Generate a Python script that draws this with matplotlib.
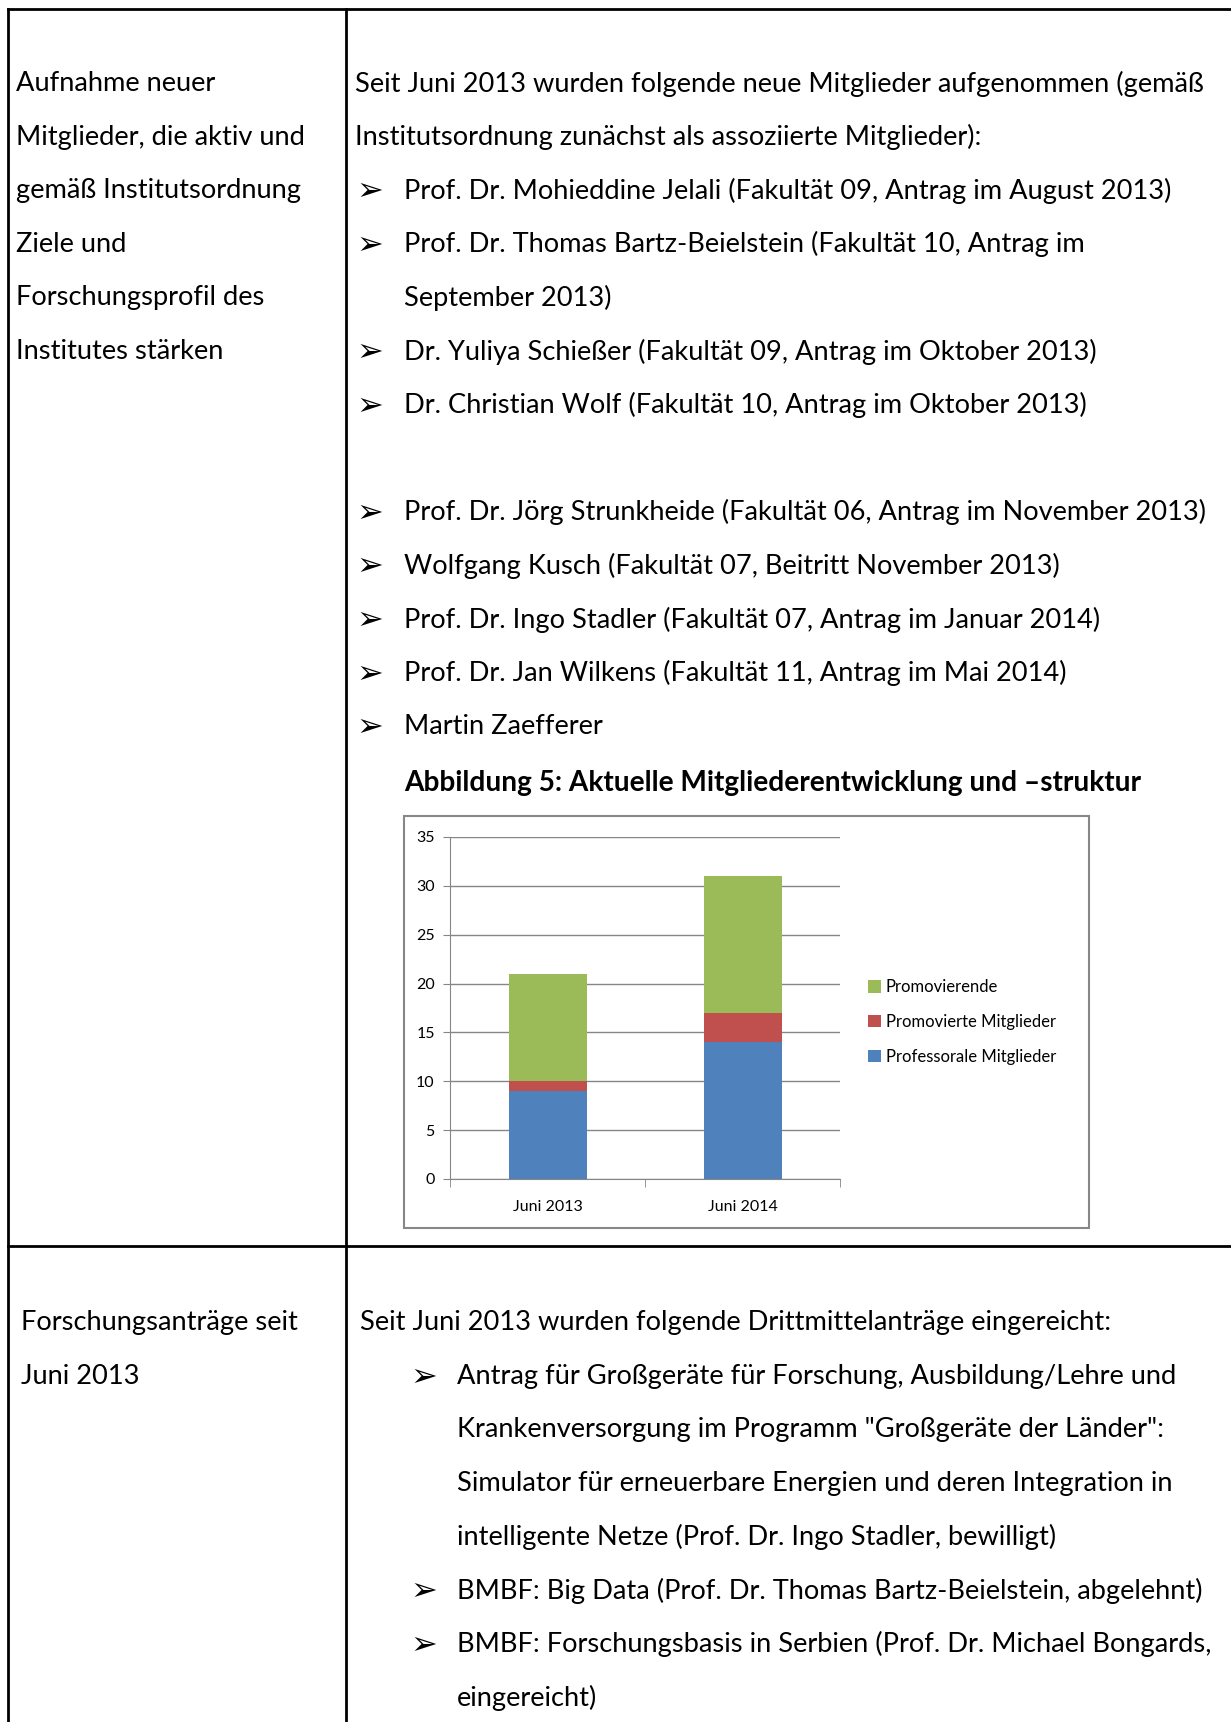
"""Rebuild of a report page: member table with stacked bar chart of member counts."""
import matplotlib
matplotlib.use('Agg')
import matplotlib.pyplot as plt
from matplotlib.patches import Rectangle

# Chart data
categories = ['Juni 2013', 'Juni 2014']
professorale = [9, 14]
promovierte = [1, 3]
promovierende = [11, 14]
series_names = ['Professorale Mitglieder', 'Promovierte Mitglieder', 'Promovierende']
series_colors = ['#4F81BD', '#C0504D', '#9BBB59']
y_ticks = [0, 5, 10, 15, 20, 25, 30, 35]

# Page text
left_row1 = ['Aufnahme neuer', 'Mitglieder, die aktiv und', 'gemäß Institutsordnung',
             'Ziele und', 'Forschungsprofil des', 'Institutes stärken']
intro_row1 = ['Seit Juni 2013 wurden folgende neue Mitglieder aufgenommen (gemäß',
              'Institutsordnung zunächst als assoziierte Mitglieder):']
members = [
    (True, 'Prof. Dr. Mohieddine Jelali (Fakultät 09, Antrag im August 2013)'),
    (True, 'Prof. Dr. Thomas Bartz-Beielstein (Fakultät 10, Antrag im'),
    (False, 'September 2013)'),
    (True, 'Dr. Yuliya Schießer (Fakultät 09, Antrag im Oktober 2013)'),
    (True, 'Dr. Christian Wolf (Fakultät 10, Antrag im Oktober 2013)'),
    (None, ''),
    (True, 'Prof. Dr. Jörg Strunkheide (Fakultät 06, Antrag im November 2013)'),
    (True, 'Wolfgang Kusch (Fakultät 07, Beitritt November 2013)'),
    (True, 'Prof. Dr. Ingo Stadler (Fakultät 07, Antrag im Januar 2014)'),
    (True, 'Prof. Dr. Jan Wilkens (Fakultät 11, Antrag im Mai 2014)'),
    (True, 'Martin Zaefferer'),
]
caption = 'Abbildung 5: Aktuelle Mitgliederentwicklung und –struktur'
left_row2 = ['Forschungsanträge seit', 'Juni 2013']
intro_row2 = 'Seit Juni 2013 wurden folgende Drittmittelanträge eingereicht:'
proposals = [
    (True, 'Antrag für Großgeräte für Forschung, Ausbildung/Lehre und'),
    (False, 'Krankenversorgung im Programm "Großgeräte der Länder":'),
    (False, 'Simulator für erneuerbare Energien und deren Integration in'),
    (False, 'intelligente Netze (Prof. Dr. Ingo Stadler, bewilligt)'),
    (True, 'BMBF: Big Data (Prof. Dr. Thomas Bartz-Beielstein, abgelehnt)'),
    (True, 'BMBF: Forschungsbasis in Serbien (Prof. Dr. Michael Bongards,'),
    (False, 'eingereicht)'),
]

W, H = 1231, 1722
FONT = ['Lato', 'DejaVu Sans']
FS = 19.6
LINE = 53.6

fig = plt.figure(figsize=(W / 100, H / 100), dpi=100)
fig.patch.set_facecolor('white')

# Page layer in pixel coordinates
page = fig.add_axes([0, 0, 1, 1])
page.set_xlim(0, W)
page.set_ylim(H, 0)
page.axis('off')

# Table borders
lw = 2.0
page.plot([8, W], [9, 9], color='black', lw=lw)
page.plot([8, 8], [9, H], color='black', lw=lw)
page.plot([346, 346], [9, H], color='black', lw=lw)
page.plot([8, W], [1246, 1246], color='black', lw=lw)


def put(x, y, s, **kw):
    page.text(x, y, s, fontsize=kw.pop('fontsize', FS), family=FONT,
              va='center_baseline', ha='left', color='black', **kw)


def arrow(x, y):
    page.text(x, y, '➢', fontsize=23, family=['DejaVu Sans'],
              va='center_baseline', ha='left', color='black')


# Row 1
for i, s in enumerate(left_row1):
    put(16, 81 + i * LINE, s)
for i, s in enumerate(intro_row1):
    put(355, 81 + i * LINE, s)
y = 81 + 2 * LINE
for bullet, s in members:
    if bullet:
        arrow(356, y)
    if s:
        put(404, y, s)
    y += LINE
put(404, 781, caption, fontweight='bold', fontsize=20.2)

# Chart frame
page.add_patch(Rectangle((404, 816), 685, 412, fill=False,
                         edgecolor='#878787', lw=1.5))

# Row 2
for i, s in enumerate(left_row2):
    put(21, 1320 + i * LINE, s)
put(360, 1320, intro_row2)
y = 1320 + LINE
for bullet, s in proposals:
    if bullet:
        arrow(410, y)
    put(457, y, s)
    y += LINE

# Stacked bar chart
ax = fig.add_axes([450 / W, 1 - 1179 / H, 390 / W, 342 / H])
x = list(range(len(categories)))
bottom = [0] * len(categories)
for name, vals, col in zip(series_names, [professorale, promovierte, promovierende],
                           series_colors):
    ax.bar(x, vals, width=0.4, bottom=bottom, color=col, label=name, zorder=3)
    bottom = [b + v for b, v in zip(bottom, vals)]

ax.set_xlim(-0.5, 1.5)
ax.set_ylim(0, 35)
ax.set_yticks(y_ticks)
ax.set_xticks(x)
ax.set_xticklabels(categories)
ax.set_xticks([-0.5, 0.5, 1.5], minor=True)
ax.tick_params(axis='x', which='major', length=0, pad=15)
ax.tick_params(axis='x', which='minor', length=6, color='#868686', direction='out')
ax.tick_params(axis='y', length=5, color='#868686', direction='out', pad=6)
for lab in ax.get_xticklabels() + ax.get_yticklabels():
    lab.set_fontfamily(FONT)
    lab.set_fontsize(11.5)
ax.grid(axis='y', color='#868686', lw=1, zorder=0)
for side in ['top', 'right']:
    ax.spines[side].set_visible(False)
for side in ['left', 'bottom']:
    ax.spines[side].set_color('#868686')
ax.set_facecolor('none')

handles, labels = ax.get_legend_handles_labels()
leg = ax.legend(handles[::-1], labels[::-1], loc='center left',
                bbox_to_anchor=(853 / W, 1 - 1022 / H), bbox_transform=fig.transFigure,
                frameon=False, handlelength=0.75, handleheight=0.75,
                handletextpad=0.3, labelspacing=1.12, prop={'family': FONT, 'size': 12})

fig.savefig('out.png', dpi=100, facecolor='white')
